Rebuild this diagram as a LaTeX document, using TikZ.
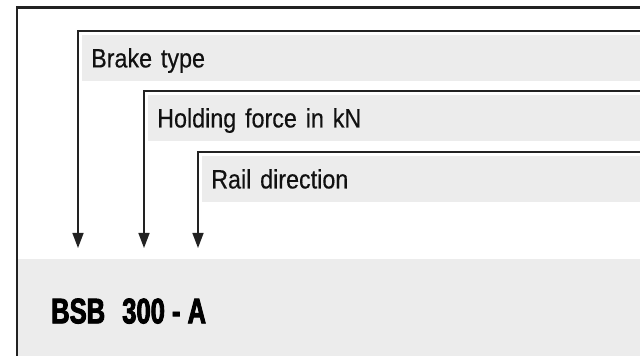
\documentclass[tikz,border=0pt]{standalone}
\usepackage{fontspec}
\setmainfont{Liberation Sans}
\newfontfamily\fieldfont[FakeStretch=0.88,FakeBold=0.4]{Liberation Sans}
\newfontfamily\codefont[FakeStretch=0.72,FakeBold=2.5]{Liberation Sans Bold}
\usetikzlibrary{arrows.meta,positioning,calc}
\definecolor{Ink}{HTML}{111111}
\definecolor{Field}{HTML}{ECECEC}
\definecolor{Rule}{HTML}{222222}

\begin{document}
\begin{tikzpicture}[x=1pt,y=1pt,
    fieldbox/.style={fill=Field,anchor=north west,minimum height=45.5pt,
      inner xsep=9pt,inner ysep=0pt,align=left,text=Ink,
      font=\fieldfont\fontsize{26.5}{28}\selectfont,text height=19pt,text depth=0pt},
    bracket/.style={draw=Rule,line width=1.4pt,-{Triangle[length=15pt,width=11pt]}}]
        \useasboundingbox (0,0) rectangle (640,356);
        % code line at the bottom
        \fill[Field] (18,0) rectangle (640,97);
        \node[anchor=base west,inner sep=0pt,text=black,
              font=\codefont\fontsize{35.5}{38}\selectfont] (code) at (51,32.7)
              {BSB\hspace{10pt} 300 - A};
        \draw[Rule,line width=2.2pt] (17,0) |- (640,348.5);
        % fields
        \node[fieldbox,text width=540pt] (brake) at (82,321) {Brake type};
        \node[fieldbox,text width=474pt] (hold) at (148,261) {Holding force in kN};
        \node[fieldbox,text width=420pt] (rail) at (202,200) {Rail direction};
        \coordinate (tipA) at (78,108);
        \coordinate (tipB) at (144,108);
        \coordinate (tipC) at (198,108);
        \draw[bracket] ([yshift=4pt]brake.north east) -| (tipA);
        \draw[bracket] ([yshift=4pt]hold.north east) -| (tipB);
        \draw[bracket] ([yshift=4pt]rail.north east) -| (tipC);
      \end{tikzpicture}
\end{document}
